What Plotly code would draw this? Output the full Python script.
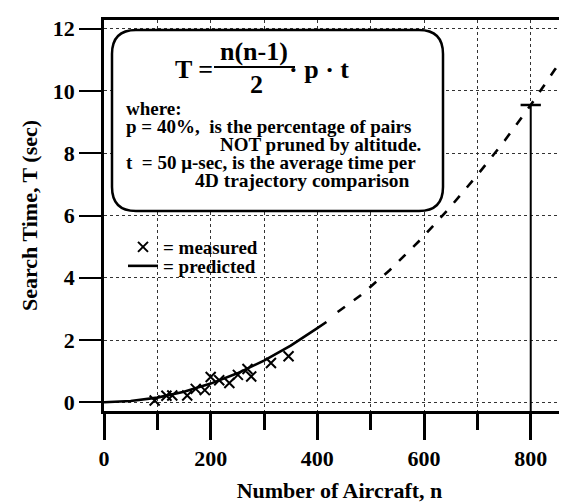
import plotly.graph_objects as go

# ---------------- data ----------------
n_measured = [95, 117, 128, 156, 172, 189, 200, 216, 235, 251, 269, 276, 313, 346]
T_measured = [0.06, 0.21, 0.22, 0.22, 0.43, 0.39, 0.81, 0.71, 0.62, 0.88, 1.07, 0.83, 1.26, 1.48]

n_pred_solid = [0, 50, 100, 150, 200, 250, 300, 350, 400, 417]
T_pred_solid = [0.0, 0.04, 0.15, 0.34, 0.60, 0.93, 1.34, 1.82, 2.38, 2.58]

n_pred_dash = [438, 480, 536, 592, 648, 700, 751, 800, 845, 883]
T_pred_dash = [2.90, 3.42, 4.25, 5.20, 6.25, 7.30, 8.40, 9.55, 10.68, 11.60]

mark_n = [800]
mark_T = [9.55]

x_ticks = [0, 200, 400, 600, 800]
y_ticks = [0, 2, 4, 6, 8, 10, 12]

X_RANGE = [0, 883]
Y_RANGE = [-0.28, 12.28]

# ---------------- layout geometry ----------------
W, H = 567, 503
ML, MR, MT, MB = 96, 0, 12, 100
PW = W - ML - MR
PH = H - MT - MB
FONT = "Liberation Serif"


def px2x(px):
    return X_RANGE[0] + (px - ML) / PW * (X_RANGE[1] - X_RANGE[0])


def py2y(py):
    return Y_RANGE[1] - (py - MT) / PH * (Y_RANGE[1] - Y_RANGE[0])


def paper_x(px):
    return (px - ML) / PW


def paper_y(py):
    return (H - MB - py) / PH


fig = go.Figure()

fig.add_trace(go.Scatter(
    x=n_pred_solid, y=T_pred_solid, mode="lines", name="= predicted",
    line=dict(color="black", width=2.6), showlegend=True, legend="legend2",
))
fig.add_trace(go.Scatter(
    x=n_pred_dash, y=T_pred_dash, mode="lines", showlegend=False,
    line=dict(color="black", width=2.6, dash="9px,11px"),
))
fig.add_trace(go.Scatter(
    x=n_measured, y=T_measured, mode="markers", name="= measured", legend="legend",
    marker=dict(symbol="x-thin", size=10, line=dict(color="black", width=2), color="black"),
))

# vertical marker at n = 800 with a cap
cap_half = 19
fig.add_trace(go.Scatter(
    x=[mark_n[0], mark_n[0]], y=[Y_RANGE[0], mark_T[0]], mode="lines",
    line=dict(color="black", width=2), showlegend=False, hoverinfo="skip",
))
fig.add_trace(go.Scatter(
    x=[mark_n[0] - cap_half, mark_n[0] + cap_half], y=[mark_T[0], mark_T[0]], mode="lines",
    line=dict(color="black", width=2.5), showlegend=False, hoverinfo="skip",
))

# ---------------- rounded formula box ----------------
bx0, bx1 = px2x(104), px2x(435)
by0, by1 = py2y(22), py2y(203)
rx = px2x(104 + 24) - px2x(104)
ry = py2y(22) - py2y(22 + 24)
path = (f"M {bx0+rx},{by0} L {bx1-rx},{by0} Q {bx1},{by0} {bx1},{by0-ry} "
        f"L {bx1},{by1+ry} Q {bx1},{by1} {bx1-rx},{by1} "
        f"L {bx0+rx},{by1} Q {bx0},{by1} {bx0},{by1+ry} "
        f"L {bx0},{by0-ry} Q {bx0},{by0} {bx0+rx},{by0} Z")
shapes = [dict(type="path", path=path, xref="x", yref="y",
               line=dict(color="black", width=2.5), fillcolor="white", layer="above")]
# fraction bar
shapes.append(dict(type="line", xref="paper", yref="paper",
                   x0=paper_x(206), x1=paper_x(287), y0=paper_y(59), y1=paper_y(59),
                   line=dict(color="black", width=2)))

annotations = []


def txt(text, px, py, size, xanchor="left"):
    annotations.append(dict(
        text=text, x=paper_x(px), y=paper_y(py), xref="paper", yref="paper",
        xanchor=xanchor, yanchor="middle", showarrow=False,
        font=dict(family=FONT, size=size, color="black", weight="bold"),
    ))


txt("T =", 186, 61, 26, "center")
txt("n(n-1)", 246, 43, 26, "center")
txt("2", 248, 77, 26, "center")
txt("· p · t", 311, 62, 26, "center")
txt("where:", 116, 100, 19)
txt("p = 40%,  is the percentage of pairs", 116, 118, 19)
txt("NOT pruned by altitude.", 210, 136, 19)
txt("t  = 50 μ-sec, is the average time per", 116, 154, 19)
txt("4D trajectory comparison", 185, 172, 19.5)

legend_font = dict(family=FONT, size=19, weight="bold", color="black")

fig.update_layout(
    width=W, height=H,
    margin=dict(l=ML, r=MR, t=MT, b=MB, autoexpand=False),
    paper_bgcolor="white", plot_bgcolor="white",
    font=dict(family=FONT, color="black"),
    shapes=shapes, annotations=annotations,
    legend=dict(
        x=paper_x(115), y=paper_y(220), xanchor="left", yanchor="top",
        bgcolor="rgba(0,0,0,0)", itemwidth=30, font=legend_font,
    ),
    legend2=dict(
        x=paper_x(115), y=paper_y(239), xanchor="left", yanchor="top",
        bgcolor="rgba(0,0,0,0)", itemwidth=30, font=legend_font,
    ),
    xaxis=dict(
        range=X_RANGE, tickvals=x_ticks, ticks="outside", ticklen=26, tickwidth=2.5,
        tickcolor="black", showline=True, linecolor="black", linewidth=2.5, mirror=True,
        showgrid=True, gridcolor="#333", griddash="dot", gridwidth=1, zeroline=False,
        automargin=False,
        minor=dict(dtick=100, tick0=0, ticks="outside", ticklen=16, tickwidth=2.5,
                   tickcolor="black", showgrid=True, gridcolor="#333", griddash="dot", gridwidth=1),
        tickfont=dict(family=FONT, size=22, weight="bold", color="black"),
        title=dict(text="Number of Aircraft, n", standoff=13,
                   font=dict(family=FONT, size=22, weight="bold", color="black")),
    ),
    yaxis=dict(
        range=Y_RANGE, tickvals=y_ticks, ticks="outside", ticklen=22, tickwidth=1.5,
        tickcolor="black", showline=True, linecolor="black", linewidth=2.5,
        showgrid=True, gridcolor="#333", griddash="dot", gridwidth=1, zeroline=False,
        automargin=False,
        tickfont=dict(family=FONT, size=22, weight="bold", color="black"),
        title=dict(text="Search Time, T (sec)", standoff=10,
                   font=dict(family=FONT, size=22, weight="bold", color="black")),
    ),
)

fig.write_html("out.html")
